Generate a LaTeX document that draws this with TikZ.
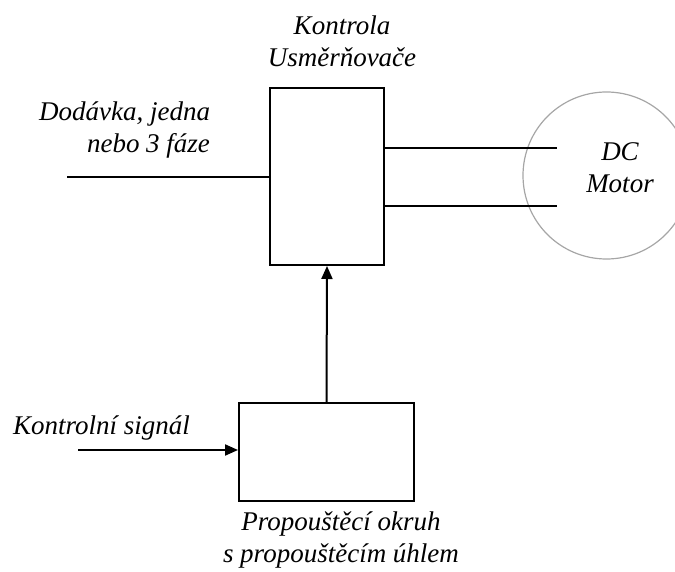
\documentclass[tikz,border=0pt]{standalone}
\usepackage{fontspec}
\setmainfont{Liberation Serif}
\usetikzlibrary{positioning,arrows.meta}
\begin{document}
\begin{tikzpicture}[x=1pt, y=-1pt, line width=2pt,
    label/.style={font=\fontsize{27}{32}\selectfont\itshape, align=center, inner sep=0pt},
    blok/.style={draw, rectangle, inner sep=0pt},
    tip/.style={-{Triangle[length=13pt, width=11pt]}}]
  \useasboundingbox (0,0) rectangle (675,572);
  \node[blok, minimum width=114pt, minimum height=177pt] (usm) at (327,176.5) {};
  \node[blok, minimum width=175pt, minimum height=98pt] (okruh) at (326.5,452) {};
  \node[draw=gray!70, line width=1.2pt, circle, minimum size=167pt] (motor) at (606.5,175.5) {};
  \node[label] (usmtext) at (342,41) {Kontrola\\Usměrňovače};
  \node[label, align=right, anchor=east] (suptext) at (211,130) {Dodávka, jedna\\nebo 3 fáze};
  \node[label] (mottext) at (620,168) {DC\\Motor};
  \node[label, anchor=west] (sigtext) at (12,428) {Kontrolní signál};
  \node[label] (okrtext) at (341,540) {Propouštěcí okruh\\s propouštěcím úhlem};
  \coordinate (sup) at (67,177);
  \coordinate (sig) at (78,450);
  \coordinate (m1) at (557,148);
  \coordinate (m2) at (557,206);
  \draw (sup) -- (sup -| usm.west);
  \draw (m1 -| usm.east) -- (m1);
  \draw (m2 -| usm.east) -- (m2);
  \draw[tip] (okruh.north) -- (usm.south);
  \draw[tip] (sig) -- (sig -| okruh.west);
\end{tikzpicture}
\end{document}
